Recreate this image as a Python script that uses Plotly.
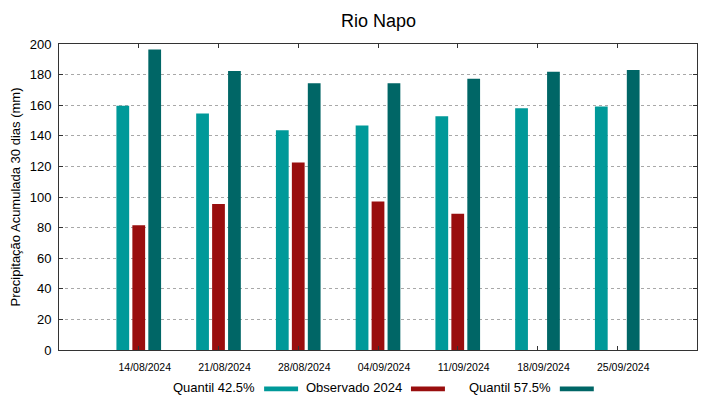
import plotly.graph_objects as go

# ---- data ----
dates = ["14/08/2024", "21/08/2024", "28/08/2024", "04/09/2024",
         "11/09/2024", "18/09/2024", "25/09/2024"]
quantil_425 = [159.7, 154.5, 143.6, 146.7, 152.8, 158.0, 159.1]
observado_2024 = [81.5, 95.5, 122.6, 97.0, 89.1, None, None]
quantil_575 = [196.4, 182.3, 174.3, 174.3, 177.3, 181.9, 183.0]
y_ticks = [0, 20, 40, 60, 80, 100, 120, 140, 160, 180, 200]

series_names = ["Quantil 42.5%", "Observado 2024", "Quantil 57.5%"]
series_values = [quantil_425, observado_2024, quantil_575]
series_colors = ["#009999", "#990e0e", "#006666"]

FONT = "Liberation Sans, Arial, sans-serif"
# the page body has an 8px default margin; the figure is sized to fit the window
OFF = 8
W, H = 719 - OFF, 399 - OFF
# plot area in window pixels: x 58.7..697.3, y 43.5..350.5
ML = 58.7 - OFF
MR = 719 - 697.3
MT = 43.5 - OFF
MB = 399 - 350.5

fig = go.Figure()
for name, vals, col in zip(series_names, series_values, series_colors):
    fig.add_trace(go.Bar(x=dates, y=vals, name=name, marker_color=col,
                         marker_line_width=0, showlegend=False))

# custom legend (text followed by swatch, gnuplot style); window-pixel helpers
pw = W - ML - MR
ph = H - MT - MB
def px_x(p):
    return (p - OFF - ML) / pw
def px_y(p):
    return (H - MB - (p - OFF)) / ph

text_right = [257, 404, 553]
annotations = []
shapes = []
for name, col, tr in zip(series_names, series_colors, text_right):
    annotations.append(dict(text=name, x=px_x(tr), y=px_y(388), xref="paper", yref="paper",
                            xanchor="right", yanchor="middle", showarrow=False,
                            font=dict(family=FONT, size=13, color="#000000")))
    shapes.append(dict(type="rect", xref="paper", yref="paper",
                       x0=px_x(tr + 7), x1=px_x(tr + 41), y0=px_y(392), y1=px_y(387),
                       fillcolor=col, line=dict(width=0)))

# title as an annotation so its box stays inside the figure
annotations.append(dict(text="Rio Napo", x=0.5, y=px_y(8.5), xref="paper", yref="paper",
                        xanchor="center", yanchor="top", showarrow=False,
                        font=dict(family=FONT, size=18, color="#000000")))

fig.update_layout(
    width=W, height=H,
    margin=dict(l=ML, r=MR, t=MT, b=MB, autoexpand=False),
    paper_bgcolor="white", plot_bgcolor="white",
    barmode="group", bargap=0.4, bargroupgap=0.2,
    annotations=annotations, shapes=shapes,
    font=dict(family=FONT, color="#000000"),
)
fig.update_xaxes(
    type="category", range=[-1, len(dates)],
    showline=True, linecolor="#333333", linewidth=1, mirror="ticks",
    ticks="inside", ticklen=4, tickcolor="#333333",
    showgrid=False, zeroline=False, automargin=False,
    tickfont=dict(family=FONT, size=10.5, color="#000000"),
    ticklabelshift=6, ticklabelstandoff=7,
)
fig.update_yaxes(
    range=[0, 200], tickvals=y_ticks,
    showline=True, linecolor="#333333", linewidth=1, mirror="ticks",
    ticks="inside", ticklen=4, tickcolor="#333333",
    showgrid=True, gridcolor="#a8a8a8", griddash="dot", gridwidth=1,
    zeroline=False, automargin=False,
    tickfont=dict(family=FONT, size=13, color="#000000"),
    ticklabelstandoff=4,
    title=dict(text="Precipitação Acumulada 30 dias (mm)", standoff=6,
               font=dict(family=FONT, size=13, color="#000000")),
)

fig.write_html("out.html")
